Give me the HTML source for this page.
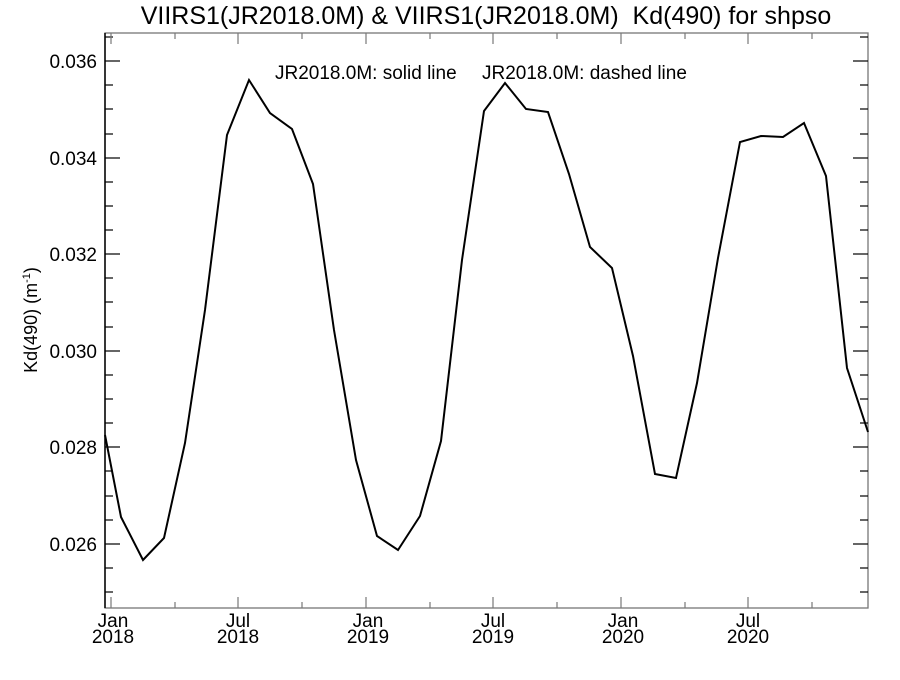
<!DOCTYPE html>
<html><head><style>
html,body{margin:0;padding:0;background:#fff;}
svg text{font-family:"Liberation Sans",sans-serif;fill:#000;}
</style></head><body>
<svg width="900" height="675" viewBox="0 0 900 675" xmlns="http://www.w3.org/2000/svg">
<rect width="900" height="675" fill="#fff"/>
<text x="486" y="24" font-size="25" text-anchor="middle" xml:space="preserve">VIIRS1(JR2018.0M) &amp; VIIRS1(JR2018.0M)  Kd(490) for shpso</text>
<rect x="105" y="33" width="763" height="575" fill="none" stroke="#777" stroke-width="1.3"/>
<line x1="105" y1="33" x2="105" y2="608" stroke="#000" stroke-width="1.5"/>
<g stroke="#000" stroke-width="1.2">
<line x1="105" y1="61" x2="120" y2="61"/><line x1="105" y1="158" x2="120" y2="158"/>
<line x1="105" y1="254" x2="120" y2="254"/><line x1="105" y1="351" x2="120" y2="351"/>
<line x1="105" y1="447" x2="120" y2="447"/><line x1="105" y1="544" x2="120" y2="544"/>
<line x1="853" y1="61" x2="868" y2="61"/><line x1="853" y1="158" x2="868" y2="158"/>
<line x1="853" y1="254" x2="868" y2="254"/><line x1="853" y1="351" x2="868" y2="351"/>
<line x1="853" y1="447" x2="868" y2="447"/><line x1="853" y1="544" x2="868" y2="544"/>
</g>
<g stroke="#000" stroke-width="1.2">
<line x1="105" y1="37" x2="113" y2="37"/><line x1="105" y1="85" x2="113" y2="85"/><line x1="105" y1="109" x2="113" y2="109"/><line x1="105" y1="134" x2="113" y2="134"/>
<line x1="105" y1="182" x2="113" y2="182"/><line x1="105" y1="206" x2="113" y2="206"/><line x1="105" y1="230" x2="113" y2="230"/>
<line x1="105" y1="278" x2="113" y2="278"/><line x1="105" y1="302" x2="113" y2="302"/><line x1="105" y1="327" x2="113" y2="327"/>
<line x1="105" y1="375" x2="113" y2="375"/><line x1="105" y1="399" x2="113" y2="399"/><line x1="105" y1="423" x2="113" y2="423"/>
<line x1="105" y1="471" x2="113" y2="471"/><line x1="105" y1="496" x2="113" y2="496"/><line x1="105" y1="520" x2="113" y2="520"/>
<line x1="105" y1="568" x2="113" y2="568"/><line x1="105" y1="592" x2="113" y2="592"/>
<line x1="860" y1="37" x2="868" y2="37"/><line x1="860" y1="85" x2="868" y2="85"/><line x1="860" y1="109" x2="868" y2="109"/><line x1="860" y1="134" x2="868" y2="134"/>
<line x1="860" y1="182" x2="868" y2="182"/><line x1="860" y1="206" x2="868" y2="206"/><line x1="860" y1="230" x2="868" y2="230"/>
<line x1="860" y1="278" x2="868" y2="278"/><line x1="860" y1="302" x2="868" y2="302"/><line x1="860" y1="327" x2="868" y2="327"/>
<line x1="860" y1="375" x2="868" y2="375"/><line x1="860" y1="399" x2="868" y2="399"/><line x1="860" y1="423" x2="868" y2="423"/>
<line x1="860" y1="471" x2="868" y2="471"/><line x1="860" y1="496" x2="868" y2="496"/><line x1="860" y1="520" x2="868" y2="520"/>
<line x1="860" y1="568" x2="868" y2="568"/><line x1="860" y1="592" x2="868" y2="592"/>
</g>
<g stroke="#777" stroke-width="1.2">
<line x1="111" y1="608" x2="111" y2="597"/><line x1="238" y1="608" x2="238" y2="597"/><line x1="366" y1="608" x2="366" y2="597"/>
<line x1="493" y1="608" x2="493" y2="597"/><line x1="621" y1="608" x2="621" y2="597"/><line x1="748" y1="608" x2="748" y2="597"/>
<line x1="175" y1="608" x2="175" y2="602"/><line x1="302" y1="608" x2="302" y2="602"/><line x1="430" y1="608" x2="430" y2="602"/>
<line x1="557" y1="608" x2="557" y2="602"/><line x1="685" y1="608" x2="685" y2="602"/><line x1="812" y1="608" x2="812" y2="602"/>
<line x1="111" y1="33" x2="111" y2="44"/><line x1="238" y1="33" x2="238" y2="44"/><line x1="366" y1="33" x2="366" y2="44"/>
<line x1="493" y1="33" x2="493" y2="44"/><line x1="621" y1="33" x2="621" y2="44"/><line x1="748" y1="33" x2="748" y2="44"/>
<line x1="175" y1="33" x2="175" y2="39"/><line x1="302" y1="33" x2="302" y2="39"/><line x1="430" y1="33" x2="430" y2="39"/>
<line x1="557" y1="33" x2="557" y2="39"/><line x1="685" y1="33" x2="685" y2="39"/><line x1="812" y1="33" x2="812" y2="39"/>
</g>
<g font-size="19" text-anchor="end">
<text x="97" y="68">0.036</text><text x="97" y="165">0.034</text><text x="97" y="261">0.032</text>
<text x="97" y="358">0.030</text><text x="97" y="454">0.028</text><text x="97" y="551">0.026</text>
</g>
<g font-size="19" text-anchor="middle">
<text x="113" y="627">Jan</text><text x="113" y="643">2018</text>
<text x="238" y="627">Jul</text><text x="238" y="643">2018</text>
<text x="368" y="627">Jan</text><text x="368" y="643">2019</text>
<text x="493" y="627">Jul</text><text x="493" y="643">2019</text>
<text x="623" y="627">Jan</text><text x="623" y="643">2020</text>
<text x="748" y="627">Jul</text><text x="748" y="643">2020</text>
</g>
<text transform="translate(37,320) rotate(-90)" font-size="18" text-anchor="middle">Kd(490) (m<tspan font-size="11" dy="-7">-1</tspan><tspan dy="7">)</tspan></text>
<text x="275" y="79" font-size="19">JR2018.0M: solid line</text>
<text x="482" y="79" font-size="19">JR2018.0M: dashed line</text>
<polyline fill="none" stroke="#000" stroke-width="2" points="105,435 121,517 143,560 164,538 185,443 205,310 227,135 249,80 270,113 292,129 313,184 334,330 356,460 377,536 398,550 420,516 441,441 462,260 484,111 505,83 526,109 548,112 569,174 590,247 612,268 633,356 655,474 676,478 697,383 718,258 740,142 761,136 783,137 804,123 826,176 847,368 868,432"/>
</svg>
</body></html>
